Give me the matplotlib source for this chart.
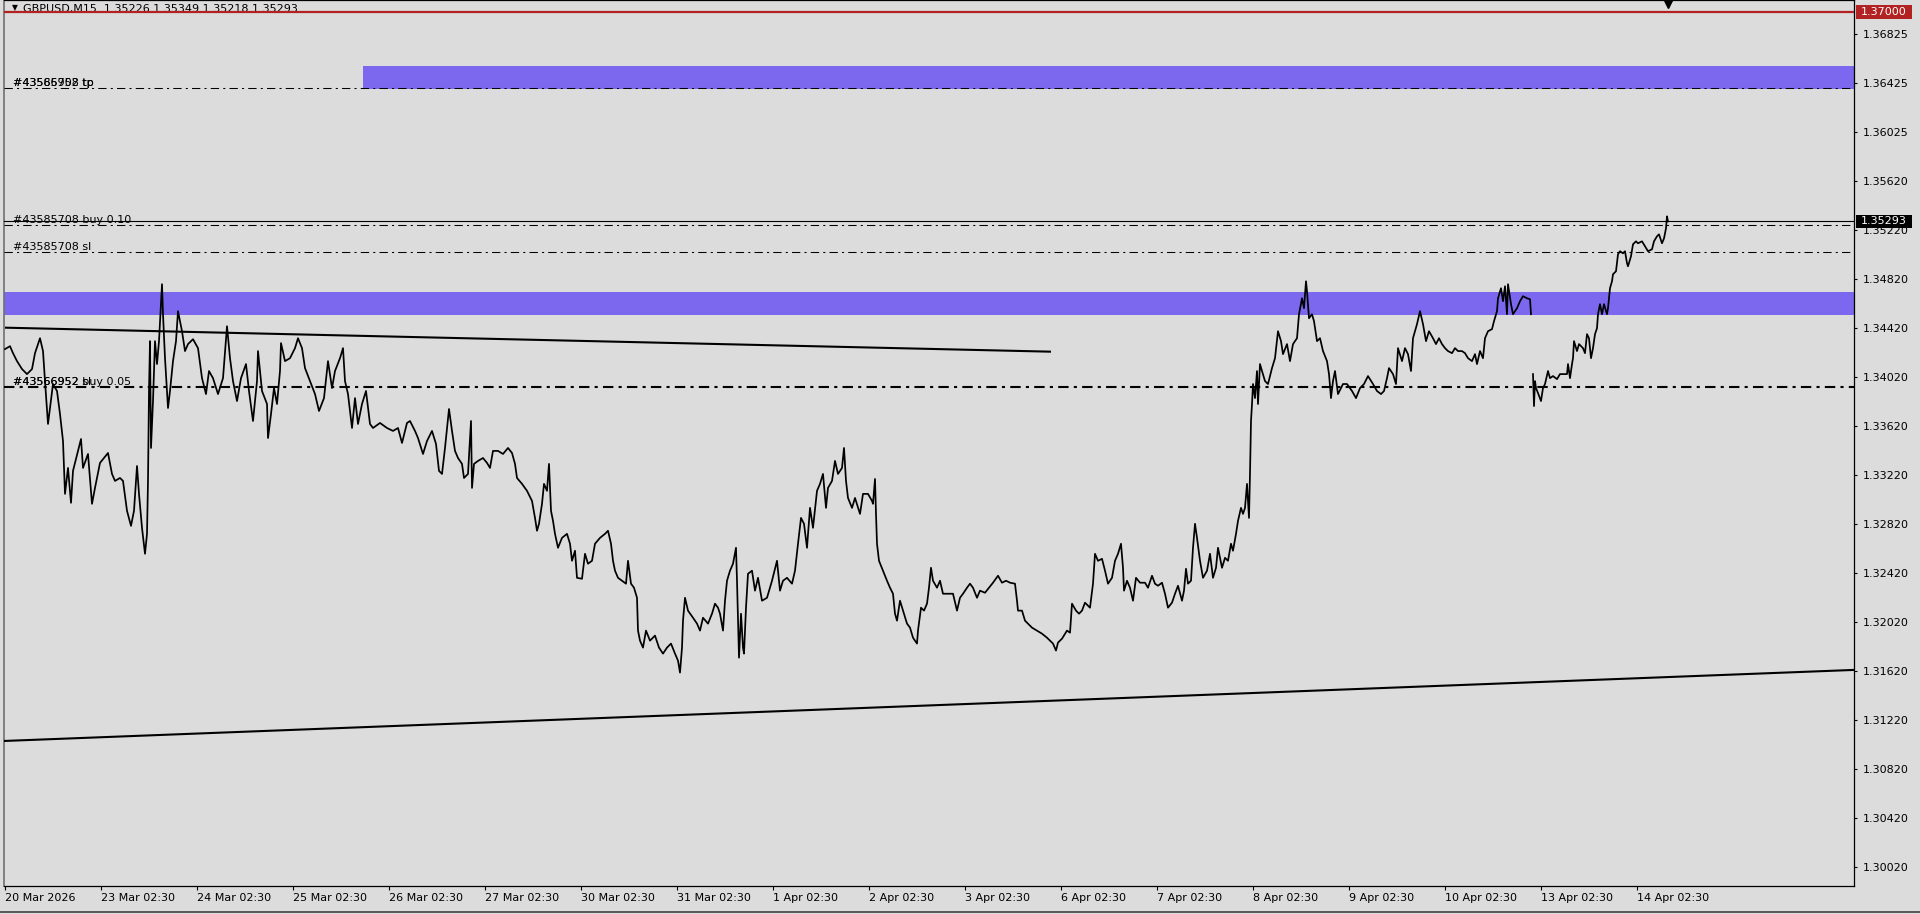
import numpy as np
import matplotlib
matplotlib.use("Agg")
import matplotlib.pyplot as plt
from matplotlib.patches import Rectangle
from matplotlib.lines import Line2D
import matplotlib.transforms as mtransforms

plt.rcParams['font.family'] = ['DejaVu Sans']

# ---------------- data ----------------
symbol_caption = "GBPUSD,M15  1.35226 1.35349 1.35218 1.35293"

bars = [0, 5, 8, 12, 17, 22, 27, 30, 35, 38, 40, 43, 45, 48, 52, 55, 58, 60, 63, 66, 68, 73, 76, 78, 83, 87, 90, 95, 99,
        103, 107, 110, 115, 118, 122, 126, 129, 132, 134, 137, 140, 142, 143, 144, 145, 146, 148, 150, 152, 154, 157,
        158, 160, 163, 165, 168, 171, 173, 177, 180, 183, 188, 193, 197, 201, 204, 208, 213, 218, 222, 225, 228, 232,
        236, 241, 244, 248, 252, 253, 257, 262, 263, 266, 269, 272, 275, 276, 280, 285, 290, 293, 297, 300, 305, 310,
        314, 319, 323, 327, 330, 335, 338, 340, 343, 347, 350, 353, 357, 361, 365, 368, 375, 382, 388, 393, 397, 402,
        405, 410, 413, 418, 422, 427, 431, 434, 437, 440, 442, 444, 447, 450, 453, 457, 459, 463, 466, 467, 469, 473,
        478, 482, 485, 488, 493, 498, 503, 507, 510, 512, 517, 522, 527, 530, 532, 534, 537, 539, 542, 544, 546, 548,
        550, 553, 557, 562, 565, 567, 570, 572, 577, 580, 583, 587, 590, 595, 600, 603, 606, 608, 610, 613, 617, 621,
        623, 626, 629, 632, 633, 635, 638, 641, 645, 650, 654, 658, 662, 666, 670, 673, 675, 677, 678, 680, 683, 688,
        692, 695, 698, 703, 707, 710, 713, 715, 718, 720, 722, 725, 728, 731, 732, 734, 736, 738, 739, 741, 743, 747,
        750, 753, 757, 762, 767, 772, 775, 778, 782, 787, 790, 793, 796, 799, 802, 805, 808, 812, 815, 818, 821, 823,
        827, 830, 833, 837, 839, 841, 843, 847, 850, 855, 858, 863, 867, 868, 870, 871, 872, 874, 878, 882, 885, 888,
        890, 892, 895, 898, 902, 905, 908, 912, 913, 916, 919, 922, 924, 926, 928, 932, 935, 938, 943, 948, 952, 955,
        958, 962, 965, 968, 972, 975, 980, 984, 988, 993, 997, 1001, 1005, 1010, 1012, 1013, 1017, 1020, 1023, 1027,
        1032, 1037, 1042, 1045, 1048, 1051, 1053, 1057, 1062, 1065, 1067, 1071, 1074, 1077, 1080, 1085, 1088, 1090,
        1093, 1097, 1100, 1103, 1107, 1110, 1113, 1116, 1118, 1119, 1122, 1125, 1128, 1131, 1135, 1140, 1143, 1147,
        1150, 1153, 1157, 1160, 1163, 1167, 1170, 1173, 1177, 1179, 1181, 1183, 1186, 1188, 1190, 1192, 1195, 1198,
        1202, 1205, 1208, 1211, 1213, 1217, 1220, 1223, 1226, 1228, 1231, 1233, 1236, 1238, 1240, 1242, 1244, 1245,
        1246, 1247, 1248, 1250, 1252, 1253, 1255, 1257, 1260, 1263, 1267, 1270, 1273, 1276, 1278, 1282, 1285, 1288,
        1292, 1294, 1297, 1299, 1301, 1302, 1304, 1307, 1309, 1312, 1315, 1318, 1322, 1324, 1326, 1328, 1330, 1333,
        1338, 1342, 1347, 1351, 1355, 1359, 1363, 1368, 1372, 1376, 1379, 1382, 1384, 1388, 1391, 1393, 1397, 1400,
        1403, 1406, 1408, 1412, 1415, 1418, 1421, 1424, 1428, 1431, 1434, 1437, 1440, 1443, 1447, 1450, 1453, 1457,
        1460, 1463, 1467, 1470, 1472, 1475, 1478, 1480, 1483, 1487, 1489, 1492, 1493, 1496, 1498, 1500, 1502, 1503,
        1506, 1508, 1512, 1515, 1518, 1522, 1525, 1526, 1527, 1528, 1529, 1530, 1531, 1533, 1536, 1538, 1540, 1543,
        1545, 1548, 1552, 1555, 1558, 1562, 1563, 1565, 1567, 1568, 1569, 1572, 1574, 1578, 1580, 1582, 1584, 1586,
        1588, 1590, 1592, 1593, 1595, 1597, 1599, 1602, 1603, 1605, 1607, 1608, 1611, 1613, 1615, 1618, 1620, 1622,
        1623, 1626, 1628, 1631, 1633, 1637, 1640, 1643, 1647, 1649, 1652, 1654, 1657, 1659, 1661, 1662, 1663]

closes = [1.34250, 1.34274, 1.34217, 1.34152, 1.34087, 1.34046, 1.34087, 1.34217, 1.34339, 1.34234, 1.33989, 1.33639,
          1.33769, 1.33965, 1.33908, 1.33720, 1.33500, 1.33068, 1.33280, 1.32995, 1.33256, 1.33419, 1.33516, 1.33280,
          1.33394, 1.32987, 1.33117, 1.33321, 1.33361, 1.33402, 1.33231, 1.33174, 1.33198, 1.33174, 1.32930, 1.32807,
          1.32930, 1.33296, 1.33068, 1.32791, 1.32579, 1.32742, 1.33174, 1.33908, 1.34315, 1.33443, 1.33826, 1.34315,
          1.34128, 1.34315, 1.34780, 1.34535, 1.34176, 1.33769, 1.33908, 1.34152, 1.34315, 1.34560, 1.34396, 1.34234,
          1.34291, 1.34331, 1.34258, 1.34013, 1.33883, 1.34071, 1.34013, 1.33883, 1.34013, 1.34437, 1.34176, 1.33989,
          1.33826, 1.34013, 1.34128, 1.33908, 1.33663, 1.33989, 1.34234, 1.33908, 1.33802, 1.33524, 1.33720, 1.33932,
          1.33802, 1.34071, 1.34299, 1.34152, 1.34176, 1.34258, 1.34339, 1.34258, 1.34095, 1.33989, 1.33883, 1.33745,
          1.33850, 1.34152, 1.33932, 1.34071, 1.34176, 1.34258, 1.33989, 1.33883, 1.33606, 1.33850, 1.33639, 1.33802,
          1.33908, 1.33639, 1.33606, 1.33647, 1.33606, 1.33582, 1.33606, 1.33484, 1.33647, 1.33663, 1.33582, 1.33524,
          1.33394, 1.33500, 1.33582, 1.33476, 1.33256, 1.33231, 1.33443, 1.33606, 1.33761, 1.33582, 1.33419, 1.33361,
          1.33313, 1.33198, 1.33231, 1.33663, 1.33117, 1.33313, 1.33337, 1.33361, 1.33321, 1.33280, 1.33419, 1.33419,
          1.33394, 1.33443, 1.33402, 1.33313, 1.33198, 1.33150, 1.33093, 1.33011, 1.32872, 1.32767, 1.32824, 1.32987,
          1.33150, 1.33093, 1.33313, 1.32930, 1.32848, 1.32742, 1.32628, 1.32709, 1.32742, 1.32661, 1.32522, 1.32604,
          1.32383, 1.32375, 1.32579, 1.32498, 1.32522, 1.32661, 1.32709, 1.32742, 1.32767, 1.32661, 1.32522, 1.32441,
          1.32383, 1.32359, 1.32335, 1.32522, 1.32335, 1.32302, 1.32220, 1.31952, 1.31870, 1.31813, 1.31952, 1.31870,
          1.31911, 1.31813, 1.31764, 1.31813, 1.31846, 1.31764, 1.31707, 1.31609, 1.31813, 1.32033, 1.32220, 1.32115,
          1.32057, 1.32009, 1.31952, 1.32057, 1.32009, 1.32090, 1.32172, 1.32139, 1.32090, 1.31952, 1.32196, 1.32359,
          1.32441, 1.32498, 1.32628, 1.32359, 1.31731, 1.32090, 1.31813, 1.31764, 1.32139, 1.32416, 1.32441, 1.32278,
          1.32383, 1.32196, 1.32220, 1.32359, 1.32522, 1.32278, 1.32359, 1.32383, 1.32335, 1.32441, 1.32661, 1.32872,
          1.32824, 1.32628, 1.32954, 1.32791, 1.33093, 1.33150, 1.33231, 1.32954, 1.33117, 1.33174, 1.33337, 1.33231,
          1.33280, 1.33443, 1.33174, 1.33035, 1.32954, 1.33035, 1.32905, 1.33068, 1.33068, 1.33011, 1.32987, 1.33190,
          1.32905, 1.32661, 1.32522, 1.32441, 1.32359, 1.32302, 1.32253, 1.32090, 1.32033, 1.32196, 1.32115, 1.32009,
          1.31976, 1.31894, 1.31846, 1.31952, 1.32139, 1.32115, 1.32172, 1.32302, 1.32465, 1.32359, 1.32302, 1.32359,
          1.32253, 1.32253, 1.32253, 1.32115, 1.32220, 1.32253, 1.32302, 1.32335, 1.32302, 1.32220, 1.32278, 1.32261,
          1.32302, 1.32343, 1.32400, 1.32343, 1.32359, 1.32343, 1.32335, 1.32196, 1.32115, 1.32115, 1.32033, 1.32009,
          1.31976, 1.31952, 1.31927, 1.31894, 1.31870, 1.31846, 1.31789, 1.31854, 1.31886, 1.31952, 1.31935, 1.32172,
          1.32115, 1.32090, 1.32115, 1.32180, 1.32139, 1.32335, 1.32579, 1.32522, 1.32538, 1.32441, 1.32335, 1.32383,
          1.32522, 1.32579, 1.32661, 1.32465, 1.32278, 1.32359, 1.32302, 1.32196, 1.32383, 1.32343, 1.32343, 1.32302,
          1.32400, 1.32335, 1.32318, 1.32343, 1.32253, 1.32139, 1.32180, 1.32253, 1.32318, 1.32196, 1.32278, 1.32457,
          1.32335, 1.32359, 1.32628, 1.32824, 1.32709, 1.32522, 1.32383, 1.32441, 1.32579, 1.32383, 1.32465, 1.32628,
          1.32465, 1.32546, 1.32522, 1.32661, 1.32604, 1.32742, 1.32848, 1.32954, 1.32905, 1.32954, 1.33150, 1.32872,
          1.33231, 1.33663, 1.33802, 1.33965, 1.33850, 1.34071, 1.33802, 1.34128, 1.34071, 1.33989, 1.33965, 1.34095,
          1.34176, 1.34396, 1.34315, 1.34209, 1.34291, 1.34152, 1.34291, 1.34339, 1.34535, 1.34665, 1.34584, 1.34804,
          1.34723, 1.34502, 1.34535, 1.34478, 1.34315, 1.34339, 1.34234, 1.34152, 1.34046, 1.33850, 1.33989, 1.34071,
          1.33883, 1.33965, 1.33965, 1.33908, 1.33850, 1.33932, 1.33965, 1.34030, 1.33965, 1.33908, 1.33883, 1.33908,
          1.34013, 1.34095, 1.34046, 1.33965, 1.34258, 1.34152, 1.34258, 1.34209, 1.34071, 1.34339, 1.34454, 1.34560,
          1.34454, 1.34315, 1.34396, 1.34339, 1.34291, 1.34339, 1.34291, 1.34258, 1.34234, 1.34217, 1.34258, 1.34234,
          1.34234, 1.34217, 1.34176, 1.34152, 1.34209, 1.34128, 1.34234, 1.34176, 1.34339, 1.34396, 1.34413, 1.34478,
          1.34560, 1.34665, 1.34747, 1.34641, 1.34763, 1.34535, 1.34780, 1.34617, 1.34535, 1.34584, 1.34641, 1.34682,
          1.34665, 1.34657, 1.34535, None, 1.34046, 1.33785, 1.33989, 1.33932, 1.33891, 1.33826, 1.33932, 1.33965,
          1.34071, 1.34013, 1.34030, 1.34005, 1.34046, 1.34046, 1.34046, 1.34128, 1.34013, 1.34128, 1.34176, 1.34315,
          1.34234, 1.34291, 1.34258, 1.34217, 1.34372, 1.34339, 1.34176, 1.34258, 1.34372, 1.34421, 1.34535, 1.34617,
          1.34535, 1.34617, 1.34535, 1.34584, 1.34747, 1.34804, 1.34861, 1.34886, 1.35024, 1.35049, 1.35032, 1.35049,
          1.34951, 1.34926, 1.35008, 1.35106, 1.35130, 1.35114, 1.35130, 1.35089, 1.35049, 1.35065, 1.35130, 1.35171,
          1.35187, 1.35114, 1.35154, 1.35236, 1.35334, 1.35293]

date_ticks = [0, 96, 192, 288, 384, 480, 576, 672, 768, 864, 960, 1056, 1152, 1248, 1344, 1440, 1536, 1632]
date_labels = ["20 Mar 2026", "23 Mar 02:30", "24 Mar 02:30", "25 Mar 02:30", "26 Mar 02:30", "27 Mar 02:30",
               "30 Mar 02:30", "31 Mar 02:30", "1 Apr 02:30", "2 Apr 02:30", "3 Apr 02:30", "6 Apr 02:30",
               "7 Apr 02:30", "8 Apr 02:30", "9 Apr 02:30", "10 Apr 02:30", "13 Apr 02:30", "14 Apr 02:30"]

price_ticks = [1.36825, 1.36425, 1.36025, 1.35620, 1.35220, 1.34820, 1.34420, 1.34020, 1.33620, 1.33220,
               1.32820, 1.32420, 1.32020, 1.31620, 1.31220, 1.30820, 1.30420, 1.30020]
price_tick_labels = ["1.36825", "1.36425", "1.36025", "1.35620", "1.35220", "1.34820", "1.34420", "1.34020",
                     "1.33620", "1.33220", "1.32820", "1.32420", "1.32020", "1.31620", "1.31220", "1.30820",
                     "1.30420", "1.30020"]

alert_level = 1.37000
bid_price = 1.35293
zone_upper = [1.36376, 1.36561]
zone_upper_start_bar = 358
zone_lower = [1.34531, 1.34716]
tp_level = 1.36384
entry_010 = 1.35265
sl_010 = 1.35043
entry_005 = 1.33943
trend_upper_bars = [0, 1046]
trend_upper_prices = [1.34425, 1.34229]
trend_lower_bars = [-1, 1849]
trend_lower_prices = [1.31051, 1.31631]

# ---------------- figure ----------------
W, H = 1920, 914
BG = '#dcdcdc'
fig = plt.figure(figsize=(W / 100, H / 100), dpi=100)
fig.patch.set_facecolor(BG)
ax = fig.add_axes([4 / W, 28 / H, 1850 / W, 886 / H])
ax.set_facecolor(BG)
XMIN, XMAX = -1, 1849
YMIN, YMAX = 1.29867, 1.37100
ax.set_xlim(XMIN, XMAX)
ax.set_ylim(YMIN, YMAX)
blend = mtransforms.blended_transform_factory(ax.transAxes, ax.transData)

ZONE = '#7b68ee'
# zones
ax.add_patch(Rectangle((zone_upper_start_bar, zone_upper[0]), XMAX - zone_upper_start_bar,
                       zone_upper[1] - zone_upper[0], fc=ZONE, ec='none', zorder=1))
ax.add_patch(Rectangle((XMIN, zone_lower[0]), XMAX - XMIN, zone_lower[1] - zone_lower[0],
                       fc=ZONE, ec='none', zorder=1))

# order lines
dd = (0, (8, 4, 2, 4))
ax.axhline(tp_level, color='black', lw=0.75, ls=dd, zorder=3)
ax.axhline(entry_010, color='black', lw=0.75, ls=dd, zorder=3)
ax.axhline(sl_010, color='black', lw=0.75, ls=dd, zorder=3)
ax.axhline(entry_005, color='black', lw=1.5, ls=(0, (5, 2.5, 1.5, 2.5)), zorder=3)
ax.axhline(bid_price, color='black', lw=0.8, zorder=3)

# trend lines
ax.plot(trend_upper_bars, trend_upper_prices, color='black', lw=1.5, zorder=3, solid_capstyle='butt')
ax.plot(trend_lower_bars, trend_lower_prices, color='black', lw=1.5, zorder=3, solid_capstyle='butt')

# price
closes_arr = np.array([np.nan if c is None else c for c in closes], dtype=float)
ax.plot(bars, closes_arr, color='black', lw=1.25, zorder=5)

# alert line
ax.axhline(alert_level, color='#b22222', lw=1.6, zorder=7)

# order labels (overlapping, as drawn by the terminal)
tx = 0.005
fs = 8
ax.text(tx, tp_level, "#43585708 tp", fontsize=fs, va='bottom', ha='left', zorder=4, transform=blend)
ax.text(tx, tp_level, "#43566952 tp", fontsize=fs, va='bottom', ha='left', zorder=4, transform=blend)
ax.text(tx, entry_010, "#43585708 buy 0.10", fontsize=fs, va='bottom', ha='left', zorder=4, transform=blend)
ax.text(tx, sl_010, "#43585708 sl", fontsize=fs, va='bottom', ha='left', zorder=4, transform=blend)
ax.text(tx, entry_005, "#43566952 sl", fontsize=fs, va='bottom', ha='left', zorder=4, transform=blend)
ax.text(tx, entry_005, "#43566952 buy 0.05", fontsize=fs, va='bottom', ha='left', zorder=4, transform=blend)

# caption
ax.text(8 / 1850, 1 - 8 / 886, "\u25bc", fontsize=5.5, transform=ax.transAxes, va='center', ha='left', zorder=6)
ax.text(19 / 1850, 1 - 9 / 886, symbol_caption, fontsize=fs, transform=ax.transAxes, va='center',
        ha='left', zorder=6)

# shift marker
ax.plot([bars[-1]], [0.996], marker='v', ms=6, color='black', clip_on=False,
        transform=mtransforms.blended_transform_factory(ax.transData, ax.transAxes), zorder=8)

# axes styling
for s in ['top', 'bottom', 'right']:
    ax.spines[s].set_color('black')
    ax.spines[s].set_linewidth(0.9)
ax.spines['left'].set_color('#707070')
ax.spines['left'].set_linewidth(1.2)

ax.yaxis.tick_right()
ax.set_yticks(price_ticks)
ax.set_yticklabels(price_tick_labels)
ax.tick_params(axis='y', direction='out', length=2.5, width=0.8, pad=3.5, labelsize=fs, colors='black')
ax.set_xticks(date_ticks)
ax.set_xticklabels(date_labels)
ax.tick_params(axis='x', direction='out', length=3, width=0.8, pad=2, labelsize=fs, colors='black')
for lab in ax.get_xticklabels():
    lab.set_horizontalalignment('left')

# right-side price boxes
px_y = (YMAX - YMIN) / 886.0
def price_box(level, text, fc):
    ax.add_patch(Rectangle((1 + 2 / 1850, level - 6.8 * px_y), 56 / 1850, 13.6 * px_y, transform=blend,
                           fc=fc, ec='none', clip_on=False, zorder=10))
    ax.text(1 + 7 / 1850, level, text, transform=blend, color='white', fontsize=fs, va='center',
            ha='left', clip_on=False, zorder=11)

price_box(alert_level, "1.37000", '#b22222')
price_box(bid_price, "1.35293", 'black')

# bottom window border
fig.add_artist(Line2D([0, 1], [2 / H, 2 / H], color='#404040', lw=1.2))

fig.savefig('out.png', dpi=100, facecolor=BG)
